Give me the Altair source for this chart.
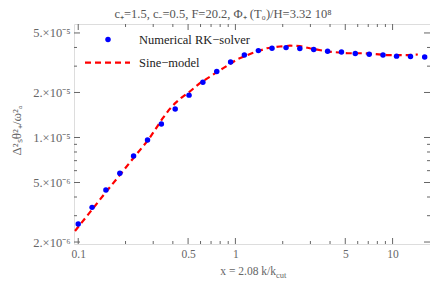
import altair as alt
import pandas as pd

# ---- data ----
x_num = [0.100, 0.1225, 0.150, 0.184, 0.225, 0.276, 0.338, 0.414, 0.507, 0.621,
         0.761, 0.932, 1.14, 1.40, 1.71, 2.10, 2.57, 3.15, 3.86, 4.73,
         5.79, 7.10, 8.69, 10.6, 13.0, 16.0]
y_num = [2.64e-6, 3.41e-6, 4.46e-6, 5.76e-6, 7.52e-6, 9.62e-6, 1.23e-5, 1.55e-5, 1.92e-5, 2.34e-5,
         2.76e-5, 3.20e-5, 3.56e-5, 3.81e-5, 3.95e-5, 3.99e-5, 3.93e-5, 3.87e-5, 3.77e-5, 3.73e-5,
         3.64e-5, 3.60e-5, 3.56e-5, 3.50e-5, 3.48e-5, 3.45e-5]

x_sine = [0.0954, 0.1232, 0.1517, 0.1862, 0.2272, 0.279, 0.3423, 0.3777, 0.4124, 0.4548,
          0.5137, 0.5944, 0.6884, 0.8327, 1.037, 1.273, 1.586, 1.919, 2.222, 2.572,
          2.977, 3.875, 5.193, 6.469, 9.153, 12.5, 14.47]
y_sine = [2.37e-6, 3.32e-6, 4.38e-6, 5.70e-6, 7.41e-6, 9.62e-6, 1.33e-5, 1.53e-5, 1.69e-5, 1.85e-5,
          2.03e-5, 2.31e-5, 2.55e-5, 2.90e-5, 3.35e-5, 3.66e-5, 3.95e-5, 4.06e-5, 4.11e-5, 4.09e-5,
          3.95e-5, 3.75e-5, 3.66e-5, 3.66e-5, 3.56e-5, 3.56e-5, 3.59e-5]

x_major = [0.1, 0.5, 1, 5, 10]
x_minor = [0.2, 0.3, 0.4, 0.6, 0.7, 0.8, 0.9, 2, 3, 4, 6, 7, 8, 9]
y_major = [2e-6, 5e-6, 1e-5, 2e-5, 5e-5]
y_minor = [3e-6, 4e-6, 6e-6, 7e-6, 8e-6, 9e-6, 3e-5, 4e-5]

legend_labels = ["Numerical RK\u2212solver", "Sine\u2212model"]
title_text = "c\u208a=1.5, c\u208b=0.5, F=20.2, \u03a6\u208a (T\u2080)/H=3.32 10\u2078"
y_title = "\u0394\u00b2\u209b\u03b8\u00b2\u208a/\u03c9\u00b2\u2090"
x_title_main = "x = 2.08 k/k"
x_title_sub = "cut"

# ---- styling ----
W, H = 356, 220
FONT = "Liberation Serif"
GRAY = "#666666"
TXT = "#222222"

xs = alt.Scale(type="log", domain=[0.094, 17.3], nice=False)
ys = alt.Scale(type="log", domain=[1.94e-6, 5.74e-5], nice=False)

num = pd.DataFrame({"x": x_num, "y": y_num})
sine = pd.DataFrame({"x": x_sine, "y": y_sine})

x_axis = alt.Axis(values=x_major, labelExpr="format(datum.value, '~g')", ticks=False,
                  domain=False, grid=False, title=None, labelFont=FONT, labelFontSize=11.5,
                  labelColor=GRAY, labelPadding=4)
y_axis = alt.Axis(values=y_major,
                  labelExpr="datum.value >= 9.9e-6 ? format(datum.value/1e-5, '.0f') + '.\u00d710\u207b\u2075' : format(datum.value/1e-6, '.0f') + '.\u00d710\u207b\u2076'",
                  ticks=False, domain=False, grid=False, title=y_title, titleFont=FONT,
                  titleFontSize=13, titleColor=GRAY, titleFontWeight="normal",
                  titleX=-58, titleY=H / 2 - 4, titleAngle=-90, titleAlign="center", titleBaseline="middle",
                  labelFont=FONT, labelFontSize=12.5, labelColor=GRAY, labelPadding=4)

X = lambda f: alt.X(f, scale=xs, axis=x_axis)
Y = lambda f: alt.Y(f, scale=ys, axis=y_axis)

line = alt.Chart(sine).mark_line(color="red", strokeDash=[6, 4], strokeWidth=2.2, clip=True).encode(
    x=X("x:Q"), y=Y("y:Q"))
pts = alt.Chart(num).mark_circle(color="blue", size=30, opacity=1).encode(
    x=X("x:Q"), y=Y("y:Q"))

def xticks(vals, L):
    d = pd.DataFrame({"x": vals})
    b = alt.Chart(d).mark_rule(color=GRAY, strokeWidth=1).encode(
        x=X("x:Q"), y=alt.value(H), y2=alt.value(H - L))
    t = alt.Chart(d).mark_rule(color=GRAY, strokeWidth=1).encode(
        x=X("x:Q"), y=alt.value(0), y2=alt.value(L))
    return [b, t]

def yticks(vals, L):
    d = pd.DataFrame({"y": vals})
    l = alt.Chart(d).mark_rule(color=GRAY, strokeWidth=1).encode(
        y=Y("y:Q"), x=alt.value(0), x2=alt.value(L))
    r = alt.Chart(d).mark_rule(color=GRAY, strokeWidth=1).encode(
        y=Y("y:Q"), x=alt.value(W), x2=alt.value(W - L))
    return [l, r]

ticks = xticks(x_major, 6) + xticks(x_minor, 3) + yticks(y_major, 6) + yticks(y_minor, 3)

one = pd.DataFrame({"a": [0]})
leg_dot = alt.Chart(one).mark_circle(color="blue", size=30, opacity=1).encode(
    x=alt.value(34), y=alt.value(15.5))
leg_line = alt.Chart(one).mark_rule(color="red", strokeDash=[6, 4], strokeWidth=2.2).encode(
    x=alt.value(11), x2=alt.value(56), y=alt.value(38.7))
leg_t1 = alt.Chart(pd.DataFrame({"t": [legend_labels[0]]})).mark_text(
    align="left", baseline="middle", font=FONT, fontSize=12.5, color=TXT).encode(
    x=alt.value(65), y=alt.value(15.5), text="t:N")
leg_t2 = alt.Chart(pd.DataFrame({"t": [legend_labels[1]]})).mark_text(
    align="left", baseline="middle", font=FONT, fontSize=12.5, color=TXT).encode(
    x=alt.value(65), y=alt.value(38.7), text="t:N")

xt_main = alt.Chart(pd.DataFrame({"t": [x_title_main]})).mark_text(
    align="right", baseline="middle", font=FONT, fontSize=11.5, color=GRAY).encode(
    x=alt.value(202), y=alt.value(248), text="t:N")
xt_sub = alt.Chart(pd.DataFrame({"t": [x_title_sub]})).mark_text(
    align="left", baseline="middle", font=FONT, fontSize=8.5, color=GRAY).encode(
    x=alt.value(202), y=alt.value(251), text="t:N")

chart = alt.layer(line, pts, *ticks, leg_dot, leg_line, leg_t1, leg_t2, xt_main, xt_sub).properties(
    width=W, height=H,
    title=alt.TitleParams(title_text, font=FONT, fontSize=12.5, color="#555555", fontWeight="normal",
                          anchor="middle", frame="group", dx=-29, offset=3),
    autosize=alt.AutoSizeParams(type="none"),
    padding={"left": 66, "top": 16, "right": 0, "bottom": 36},
).configure_view(stroke=GRAY, strokeWidth=1).configure(background="white")

chart.save("out.html", embed_options={"renderer": "svg", "actions": False})
